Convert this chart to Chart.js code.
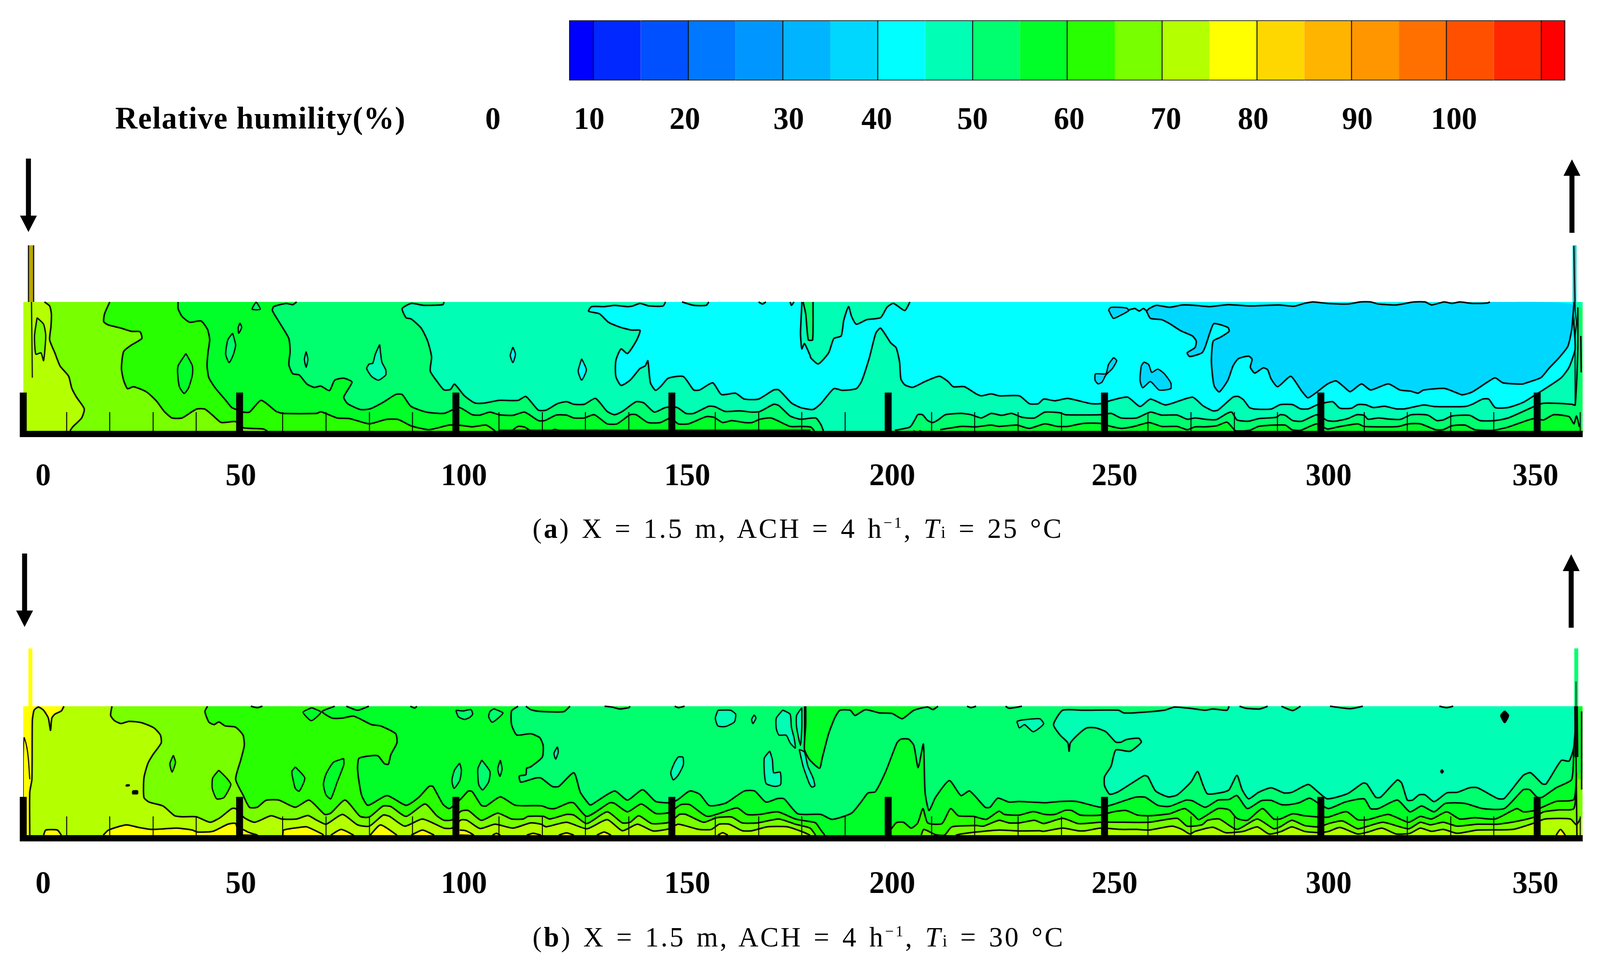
<!DOCTYPE html>
<html><head><meta charset="utf-8">
<script src="https://cdn.jsdelivr.net/npm/chart.js@4"></script>
<style>
html,body{margin:0;padding:0;background:#fff;overflow:hidden}
#page{position:relative;width:4164px;height:2473px;overflow:hidden;background:#fff;transform-origin:0 0}
canvas{position:absolute;left:0}
.t{position:absolute;white-space:nowrap;font-family:"Liberation Serif",serif;color:#000;line-height:1}
.title{font-weight:bold;font-size:80px;left:300px;top:262px;letter-spacing:1.7px}
.cap{font-size:72px;left:1386px;letter-spacing:5px;word-spacing:6px}
.cap sup{font-size:40px;line-height:0;vertical-align:26px}
.cap small{font-size:44px}
svg{position:absolute;left:0;top:0}
</style></head><body><div id="page">
<canvas id="cb" width="4164" height="400" style="top:30px"></canvas>
<canvas id="pa" width="4164" height="700" style="top:600px"></canvas>
<canvas id="pb" width="4164" height="700" style="top:1640px"></canvas>
<svg width="4164" height="2473">
<polygon fill="#000" points="67.5,406 80.5,406 80.5,552 96,552 74,594 52,552 67.5,552"/>
<polygon fill="#000" points="4084.5,596 4097.5,596 4097.5,450 4113,450 4091,408 4069,450 4084.5,450"/>
<polygon fill="#000" points="57.5,1417 70.5,1417 70.5,1563 86,1563 64,1605 42,1563 57.5,1563"/>
<polygon fill="#000" points="4082.5,1607 4095.5,1607 4095.5,1462 4111,1462 4089,1419 4067,1462 4082.5,1462"/>
</svg>
<div class="t title">Relative humility(%)</div>
<div class="t cap" style="top:1317px">(<b>a</b>) X = 1.5 m, ACH = 4 h<sup>−1</sup>, <i>T</i><small>i</small> = 25 °C</div>
<div class="t cap" style="top:2363px">(<b>b</b>) X = 1.5 m, ACH = 4 h<sup>−1</sup>, <i>T</i><small>i</small> = 30 °C</div>
</div>
<script>
/* ---------- colour bar ---------- */
const levelEdges=[7.5,10,15,20,25,30,35,40,45,50,55,60,65,70,75,80,85,90,95,100,105,110,112.5];
const levelColors=['#0000ff','#0028ff','#0050ff','#0078ff','#0096ff','#00b4ff','#00d7ff','#00ffff','#00ffb4','#00ff6e','#00ff28','#28ff00','#78ff00','#b4ff00','#ffff00','#ffd700','#ffb400','#ff9600','#ff7000','#ff5000','#ff2800','#ff0000'];
const barDividers=[7.5,10,20,30,40,50,60,70,80,90,100,110,112.5];
const barTickLabels=['0','10','20','30','40','50','60','70','80','90','100'];
const barTickAt=[-0.6,9.55,19.65,30.6,39.9,50,60.2,70.4,79.6,90.6,100.8];
/* ---------- position axis ---------- */
const xTickLabels=['0','50','100','150','200','250','300','350'];
const xLabelAt=[4.6,50.3,101.9,153.5,200.9,252.3,301.8,349.6];
/* ---------- panel (a) contours ---------- */
const a70=[[4.9,99],[6.1,95.9],[6.5,89.9],[6.4,79.9],[6.1,69.9],[7.3,59.9],[8.5,49.9],[10.5,41.9],[11.2,32.9],[12.3,25.9],[14.1,16.9],[13.5,9.9],[11.4,2.9],[10.8,0]];
const a65=[[20,99],[18.8,89.9],[18.6,83.9],[19.6,81.4],[22.6,78.9],[25,76.4],[27,76.1],[27.4,70.9],[25,65.9],[23.2,60.9],[22.7,47.9],[23.2,38.9],[24.1,32.4],[25.5,33.9],[28.5,29.9],[30.8,22.9],[32.6,14.9],[34.4,9.9],[36.7,9.9],[39.1,14.9],[40.2,16.9],[42,16.7],[43.8,11.9],[45.8,6.4],[49.1,7.1],[50.8,2.4],[55.5,1.4],[56.4,0]];
const a60=[[35.8,99],[35.8,93.9],[36.7,87.9],[38.5,83.4],[41.1,84.4],[42.6,77.9],[43.1,69.9],[42.7,59.9],[42.5,49.9],[42.9,40.9],[44.4,32.9],[46.7,23.9],[48.2,17.9],[49.7,15.9],[50.8,14.4],[52.3,14.4],[55,23.4],[58.5,14.9],[60,13.4],[67.9,13.4],[68.8,14.7],[72.6,9.9],[75.5,9.4],[80,5.4],[83.8,8.7],[86.7,8.7],[89.6,3.9],[93.8,0.9],[98.5,4.4],[101.4,4.1],[103.8,3.1],[107,4.4],[109.1,0]];
const a55=[[63.2,99],[62.3,96.9],[60.8,97.9],[57.9,95.4],[57.6,92.4],[59.1,83.9],[61.4,70.9],[61.7,60.9],[61.4,50.9],[62.3,43.9],[63.8,42.9],[65.6,35.9],[67.3,33.4],[68.8,34.4],[70.8,30.9],[72,38.9],[74.1,40.4],[76,37.4],[74.1,25.9],[75,20.9],[77.9,16.4],[80.2,16.9],[83.2,21.9],[86.1,27.9],[87.6,27.9],[89.6,18.9],[93.2,14.4],[97.3,13.4],[99.1,15.9],[100.9,17.9],[103.8,12.4],[105.6,12.1],[107.9,14.4],[110,12.4],[113.2,11.9],[115.9,14.4],[119.1,7.9],[120.6,7.9],[123.2,12.1],[125.6,12.1],[127.3,9.9],[129.7,9.9],[132,12.4],[135,5.4],[137.3,5.4],[140.3,12.4],[141.7,12.4],[144.4,6.4],[147.3,6.4],[149.7,9.9],[151.4,5.4],[153.8,5.4],[157.9,10.9],[159.7,10.4],[161.7,6.4],[163.8,7.9],[166.7,6.4],[168.5,6.4],[170.3,8.9],[172.9,9.9],[177.3,3.4],[179.7,3.4],[182.1,2.9],[182.9,0],[212,0.9],[216.8,3.4],[220.3,3.1],[223.8,4.4],[225.6,3.4],[229.7,4.4],[232.6,1.9],[236.2,5.4],[239.1,3.4],[241.5,3.4],[245,5.7],[249.1,5.7],[251.5,3.4],[253.8,1.9],[256.8,3.4],[260.3,6.4],[263.2,3.4],[266.8,3.4],[269.1,0.9],[270.9,3.1],[273.2,3.1],[275.9,3.9],[278.3,6.7],[279.7,1.9],[280.3,0],[283.5,0.4],[285.6,3.4],[289.1,4.4],[291.8,4.4],[293.3,0.9],[295.3,0.4],[299.1,5.4],[301.5,1.4],[303.8,2.9],[308.5,5.4],[310,3.4],[315.6,3.1],[318,3.4],[320.3,5.4],[323,5.4],[326.5,0.9],[328.3,0.9],[330.3,3.9],[333.3,4.4],[335.6,0.9],[339.7,0.4],[343.3,2.9],[349.1,9.4],[351.5,8.4],[353.8,12.4],[357.4,10.9],[358.5,5.4],[359.1,11.4],[359.8,2.9]];
const a50=[[97.3,99],[97,96.9],[92.6,96.4],[89.7,97.9],[87.6,93.9],[88.5,86.9],[89.7,85.9],[92,78.9],[93.5,68.9],[94.4,56.9],[94.1,45.9],[95.9,36.9],[97.3,31.4],[98.8,31.9],[99.7,35.9],[102,26.9],[104.4,21.4],[106.7,21.4],[110,23.4],[114.4,23.4],[116.2,26.4],[119.1,15.9],[120.9,15.9],[123.5,20.9],[125.6,22.4],[127.3,20.4],[129.7,20.4],[132.3,24.9],[135,14.9],[136.7,12.4],[138.5,14.9],[141.7,22.4],[143.5,21.4],[145.9,14.4],[148.5,17.9],[151.2,17.9],[153.2,13.4],[155,13.4],[158.5,18.9],[160,18.4],[162.3,14.9],[165.6,15.4],[168.5,14.4],[170.3,14.9],[173.5,20.4],[174.7,19.4],[177.3,11.4],[179.7,8.9],[183.2,9.9],[184.4,4.9],[185,0],[201.5,0.4],[205,2.9],[206.2,8.9],[206.8,12.4],[207.9,12.4],[209.1,7.9],[210.3,6.4],[211.5,8.4],[213.2,12.4],[216.8,13.4],[219.1,12.4],[221.5,9.9],[223.8,13.4],[226.2,11.9],[228.5,13.4],[230.9,10.4],[233.8,9.9],[236.2,14.4],[239.7,13.9],[240.9,12.4],[249.1,12.4],[251.5,13.4],[253.8,9.9],[257.4,9.9],[260.6,14.4],[263.2,12.1],[266.8,12.1],[269.1,8.9],[270.9,9.9],[273.8,8.7],[275.9,8.7],[278.3,13.4],[279.4,14.4],[280.6,8.4],[283.3,7.4],[285.6,9.4],[289.7,10.4],[290.6,12.4],[291.8,11.9],[293.5,7.9],[295.6,7.4],[299.1,12.4],[301.5,7.9],[303.3,7.4],[306.2,9.4],[308.3,12.4],[310,11.9],[310.9,8.9],[313.3,9.9],[316.2,8.9],[318.5,8.9],[320.9,12.4],[324.7,12.1],[326.8,7.9],[328.3,8.4],[330.3,11.4],[334.4,11.9],[336.8,7.9],[340.3,7.9],[343.3,9.9],[349.1,18.4],[351.2,21.1],[355,21.1],[358,20.4],[358.8,19.9],[359.4,62.9],[359.4,94.9]];
const a45=[[148.5,99],[147.9,95.9],[144.7,95.9],[142.6,97.9],[140.9,95.9],[139.7,95.4],[136.7,96.4],[134.4,95.4],[131.4,95.4],[130.7,91.9],[133.2,89.9],[135.3,83.4],[137.9,79.7],[140.6,77.4],[142.6,77.1],[141.7,68.9],[139.7,59.4],[138.2,62.9],[137,53.9],[137,41.9],[138.2,34.9],[140.3,38.9],[142.6,47.9],[143.8,49.9],[144.4,53.9],[145,36.9],[146.2,31.1],[147.6,34.9],[149.1,40.4],[152.6,41.7],[155,31.4],[156.4,31.4],[159.4,36.9],[161.4,27.9],[164.7,28.9],[166.7,24.4],[170,24.4],[173.5,31.4],[174.7,31.4],[177.6,21.4],[179.7,17.9],[182.6,16.4],[184.4,20.9],[187.4,32.4],[189.4,31.1],[192.6,32.4],[193.8,37.9],[195.6,55.9],[197.1,74.9],[198.2,78.9],[200.6,67.4],[201.8,63.9],[202.6,52.9],[202.9,39.9],[203.8,35.4],[205.6,33.4],[208.5,37.9],[211.8,41.9],[213.8,37.9],[215,33.9],[217.6,33.9],[220.3,28.4],[221.5,26.9],[223.8,28.4],[225.6,26.9],[230.3,26.9],[232.6,20.9],[234.7,20.9],[235.9,24.4],[238.5,23.1],[241.5,24.9],[246.8,20.9],[249.1,20.9],[251.5,23.4],[255.3,25.9],[258.2,18.7],[260.6,24.4],[264.1,19.9],[270.3,25.9],[272.7,19.4],[275,15.4],[276.2,15.9],[279.7,25.9],[280.9,26.4],[282.1,23.9],[283.5,17.9],[284.7,16.7],[288.5,16.7],[290.6,20.1],[293.5,20.1],[295.3,16.9],[297.1,16.9],[299.1,19.9],[302.7,22.4],[304.4,17.4],[307.1,17.4],[308.5,20.1],[310.3,20.1],[312.1,17.9],[314.7,18.9],[317.4,16.9],[319.4,16.9],[323.8,19.9],[326.2,18.7],[333.3,18.7],[335,20.4],[337.4,24.4],[338.8,24.4],[340.3,17.9],[343.3,17.9],[346.8,21.9],[349.7,27.9],[352.1,32.9],[355.6,40.9],[357.4,48.9],[358.8,62.9],[358.5,82.9],[358.5,99]];
const a40Lower=[[259.7,91.9],[260.6,86.4],[263.2,85.4],[265,82.4],[267.6,76.9],[270.3,72.9],[271.2,68.9],[270.9,63.9],[269.1,59.9],[269.7,57.1],[272.5,59.9],[273.3,64.9],[274.4,75.9],[275.3,82.4],[278.5,79.4],[278.8,76.4],[276.8,71.9],[275.1,68.9],[274.7,52.9],[275.3,34.9],[276.5,29.9],[278.5,38.9],[279.7,49.9],[280.9,55.4],[283.3,57.4],[284.1,54.9],[283.7,48.9],[284.7,44.4],[286.7,48.4],[287.7,46.9],[288.5,39.9],[290,33.9],[293,41.9],[294.7,34.9],[295.6,30.4],[297.1,25.4],[301.5,35.9],[303.5,38.4],[305.3,33.9],[306.8,30.1],[309.4,36.1],[311.5,31.4],[315.6,36.1],[318.3,31.4],[320.9,30.4],[322.4,28.9],[323.8,31.4],[328.5,32.6],[330.9,29.9],[332.7,27.7],[335,29.9],[338.5,37.4],[340.3,40.7],[342.1,36.9],[346.5,35.9],[348,37.4],[350.9,40.9],[352.7,47.9],[355,55.9],[357.1,64.9],[358,77.9],[358.5,96.9]];
const a40Top=[[339.1,99],[338.5,98.2],[335,97.9],[332.1,99],[330.3,97.9],[328.5,99],[325.6,96.7],[324.1,99],[321.5,99],[317.4,96.7],[313.3,97.4],[311.5,99],[309.1,99],[306.2,97.4],[301.5,97.9],[298.2,99],[296.2,97.9],[293.8,95.7],[290.3,96.7],[283.8,95.9],[278.5,96.9],[274.4,95.4],[270.9,96.4],[268,96.7],[265,94.9],[262,96.4],[260.3,93.9],[259.7,91.9]];
const aTongue=[[180,99],[180,97],[179.7,75],[180,63],[180.6,67],[181.9,58],[182.1,55.9],[183.8,51.4],[186.2,59.9],[187.4,70.9],[189.1,72.9],[189.7,84.9],[190.8,95.4],[191.5,87.9],[192.6,81.9],[195,85.4],[198.2,86.9],[199.7,94.9],[201.2,97.9],[203.8,92.4],[205,99]];
const aSliver=[[180.3,99],[180.9,89.9],[181.5,69.9],[182.5,69.9],[182.6,99]];
const aTopTealBlips=[[[152.3,99],[155,96.4],[157.9,96.4],[158.5,99]],[[170,99],[170.9,97.4],[171.7,99]],[[177.3,99],[177.6,96.4],[178.2,99]]];
const aSquiggle=[[255.6,92.9],[257,94],[258,92],[259,94],[259.7,92]];
const aGreenIslands=[[[37.6,59.4],[39.1,49.9],[39.1,42.9],[38.2,32.9],[37.2,28.7],[36.1,33.9],[35.7,43.9],[35.8,49.9]]];
const aLightIslands=[[[48.4,75.1],[49.1,65.9],[48.5,57.9],[47.6,52.4],[46.8,58.9],[47.3,69.9]],[[50.1,82.9],[50.5,79.4],[49.8,74.9],[49.7,79.4]],[[53.9,99],[54.8,93.4],[52.9,93.4],[53.5,97.4]]];
const aTealIslands=[[[65.4,60.9],[65.8,54.9],[65.4,48.9],[65,54.9]],[[82.4,66.4],[82.9,52.9],[83.8,46.9],[83.8,42.9],[82.1,38.9],[80.5,41.9],[79.4,47.9],[80,51.4],[80.8,51.9],[81.4,58.9]]];
const aCyanIslands=[[[113.2,64.4],[113.8,58.9],[113.2,52.4],[112.6,57.9]],[[129.1,55.4],[130.2,46.9],[129.1,38.9],[128.3,45.9]]];
const aBlueIslands=[[[250.9,92.9],[251.5,94.9],[255,94.4],[255.6,92.4],[253.2,87.9],[252,86.4]],[[252.1,56.4],[252.8,53.9],[251.8,47.9],[250.3,42.9],[249.4,37.4],[248.5,36.1],[247.8,38.9],[247.9,43.7],[250.3,43.9],[250.9,50.9]],[[259.1,52.9],[260.2,50.9],[260.9,44.9],[262.3,47.4],[263.8,43.9],[265.3,36.9],[265.3,32.4],[262.6,31.4],[260.6,37.9],[258.8,33.1],[258.2,38.9],[258.5,49.9]]];
const aJetIsland=[[3.2,86.9],[2.6,72.9],[2.9,58.9],[4.1,59.9],[4.7,53.9],[5.2,72.9],[4.7,81.9]];
const aJetLine=[[1.9,99],[2.1,40.9]];
const aFloorBlobs=[[[112.9,0],[114.4,3.4],[115.9,2.9],[117.3,0]],[[122,0],[122.9,1.1],[124.1,0]],[[205.9,0],[206.6,3.9],[207.4,0]]];
const aFloorFuzz=[[110,0.5],[182,0.5]];
const aOutletLine=[[358.5,142],[358.8,92.9],[359.1,82.9],[358.8,72.9],[358.8,19.9]];
const aOutletEdge=[[360.1,72.9],[360.2,44.9]];
const aInlet=[[1.2,99],[1.2,142.5],[2.4,142.5],[2.4,99]];
const aOutlet=[[358.2,99],[358.2,142.5],[359.1,142.5],[359.1,99]];
/* ---------- panel (b) contours ---------- */
const bInletZone=[[9.4,99],[8.8,95.4],[7.3,92.9],[6.6,89.9],[6.3,80.4],[5.8,89.9],[4.7,95.9],[3.5,98.4],[2.5,95.9],[2.1,87.9],[2,42.9],[1.5,32.9],[1.5,0]];
const bFloorYellow=[[[4.7,0],[5.2,3.9],[7.9,3.9],[8.8,0]],[[18.5,0],[19.7,3.9],[23.8,7.9],[26.7,5.9],[29.7,4.4],[35.5,5.4],[39.1,3.9],[40.2,2.4],[43.8,2.9],[47.3,8.4],[49.1,8.9],[49.8,0]],[[50.8,4.4],[52.3,1.9],[54.1,0],[50.8,0]],[[60,0],[60.2,3.9],[63.8,5.9],[65.5,6.4],[69.1,0.9],[69.4,0]],[[71.1,0],[73.5,4.4],[76.4,0]],[[80.2,0],[82.6,7.9],[86.4,0]],[[89.7,0],[92.3,3.9],[95,0]],[[100.9,3.9],[102.3,3.4],[104.1,0],[100.9,0]],[[108.5,0],[109.4,1.4],[110.3,0]],[[116.4,0],[117.9,1.4],[119.7,0]],[[123.8,0],[125.6,1.7],[127.3,0]],[[132.6,0],[134.3,2.4],[135.9,0]],[[160.6,0],[161.7,1.9],[162.9,0]],[[354.4,0],[355.4,4.4],[356.5,0]]];
const b70=[[20.5,99],[20.2,91.9],[21.1,87.9],[22.6,85.7],[24.4,87.4],[27.3,86.4],[30.2,82.4],[31.7,76.9],[31.9,70.9],[30,61.9],[28.8,54.9],[27.9,43.9],[27.9,28.9],[29.1,25.4],[32.3,22.4],[35,14.9],[36.7,14.1],[40,14.1],[43.2,9.9],[45.5,13.4],[48.2,20.4],[49.1,20.4],[51.1,13.4],[53.5,9.9],[57.3,14.9],[59.7,12.4],[63.2,12.4],[65.8,15.1],[67.9,11.4],[70,8.4],[73.8,15.9],[77.3,7.9],[80,6.9],[83.2,15.4],[84.7,14.4],[88.2,6.9],[92.3,12.4],[97.3,5.4],[99.1,5.4],[101.2,11.7],[102.6,11.4],[105.6,5.1],[109.1,8.4],[113.2,5.4],[117.3,9.4],[119.7,8.4],[120.9,6.4],[125.6,9.9],[130.3,4.9],[135,11.9],[138.5,3.4],[142,8.4],[145.6,3.2],[149.4,4.9],[151.4,8.4],[156.2,4.4],[159.1,4.4],[160.9,8.4],[163.2,8.4],[166.2,3.4],[168.5,3.4],[172,6.4],[176.7,6.4],[180.3,2.4],[181.9,0],[215.6,0],[216.8,0.9],[220.3,2.4],[225.6,3.9],[230.3,3.2],[235,3.4],[235.9,2.9],[240.3,5.4],[243.8,3.4],[245.6,3.4],[249.1,5.4],[253.8,4.4],[257.4,4.4],[260.3,3.9],[265.6,6.9],[267.9,4.4],[269.7,0.9],[270.9,2.9],[275,6.1],[278,1.9],[282.1,2.9],[285.3,6.4],[288,0.9],[290.9,2.9],[293.3,6.4],[296.2,2.9],[299.7,1.9],[301.8,2.9],[304.4,5.9],[308.5,0.9],[310.9,2.4],[314.1,5.4],[317.4,0.9],[320.6,1.4],[323,5.4],[325.6,2.9],[328.3,4.4],[331.5,1.4],[336.2,3.9],[344.4,4.4],[349.4,9.4],[351.8,12.4],[357.7,12.4],[359.1,7.9],[360,12.9]];
const b65=[[42.6,99],[42,94.9],[42.9,86.9],[44.1,84.9],[45.2,86.9],[46.7,83.9],[49.1,82.9],[50.8,76.9],[51.1,68.9],[50.3,57.9],[49.1,42.9],[50.8,30.9],[52.3,21.4],[54.1,21.4],[56.1,26.7],[59.1,26.9],[62.9,21.4],[66.1,26.9],[69.7,15.9],[71.1,16.9],[74.4,26.9],[77.9,14.4],[80,13.9],[83.2,22.4],[85,21.9],[88.5,14.4],[92.9,23.9],[95.6,14.9],[97.3,11.4],[99.1,11.7],[101.2,18.4],[102.9,18.9],[105.9,11.4],[109.7,16.9],[112.9,12.4],[115.6,12.4],[116.7,14.4],[120.3,14.4],[121.7,12.4],[125.6,15.9],[127.3,15.4],[130.3,8.9],[135,17.9],[138.5,9.4],[140.3,9.9],[142.3,14.9],[145.3,8.9],[149.4,9.9],[151.7,15.9],[153.2,15.9],[157.3,9.9],[160.3,13.4],[163.8,13.9],[166.2,9.4],[169.7,9.4],[174.7,12.4],[178.5,8.4],[181.9,5.4],[183.2,0],[207.6,0],[208.2,4.4],[210.9,0.4],[213,0],[214.7,6.4],[220.3,7.4],[222,6.9],[225.6,11.4],[227.9,9.4],[230.3,9.4],[233.8,11.4],[235.9,8.9],[240.3,12.9],[243.8,8.9],[245.6,8.9],[249.1,9.9],[254.4,9.9],[260.3,9.9],[266.8,12.9],[269.1,6.9],[272.5,7.9],[273.8,11.4],[276.5,12.4],[280.6,4.4],[285.3,12.4],[289.1,4.9],[290.6,6.4],[293.3,11.4],[296.2,7.4],[299.7,6.4],[301.8,8.9],[305,10.9],[308.5,4.9],[310.9,6.9],[314.4,9.9],[320.3,4.9],[323,9.9],[325.3,7.9],[328.3,9.9],[331.5,6.9],[336.2,8.4],[340.9,8.4],[345,10.4],[349.4,13.9],[351.5,17.9],[355,19.4],[358.5,20.4],[359.1,42.9]];
const b60=[[72,99],[69.1,94.9],[71.4,89.9],[73.8,89.9],[76.4,91.4],[80.5,84.9],[82.6,83.9],[86.1,77.9],[86.4,70.9],[85,61.9],[84.4,54.4],[83.5,54.9],[82,60.9],[80.2,60.9],[77.6,58.9],[77.3,49.9],[78.2,30.9],[79.7,22.9],[84.1,30.4],[88.5,22.9],[91.4,28.9],[93.8,37.4],[94.7,37.4],[97,23.9],[98.5,20.4],[101.2,27.9],[102.9,33.9],[103.8,33.4],[105.9,22.9],[107,22.4],[110.3,29.4],[113.8,22.9],[119.7,22.6],[121.7,20.4],[122.9,20.4],[126.2,24.9],[127.3,24.7],[130.3,14.4],[135.6,24.9],[136.7,24.4],[139.7,17.9],[142.9,23.9],[146.2,16.7],[149.4,17.4],[152,23.4],[154.1,23.4],[158.2,14.4],[165,20.9],[167.3,15.9],[170.3,15.9],[174.4,17.9],[178.5,12.4],[181.9,10.4],[183.2,9.4],[184.4,3.9],[185.3,0],[199.7,0],[201.8,9.4],[203.5,9.9],[205.3,5.4],[206.8,9.4],[208,20.4],[209.1,9.4],[212.4,8.9],[214.4,20.4],[216.2,14.9],[219.7,14.4],[222.6,12.1],[225.6,18.4],[226.8,15.9],[230.3,15.4],[233.5,18.1],[236.2,15.9],[238.5,15.9],[240.9,19.1],[242.4,18.9],[244.4,15.4],[249.1,15.4],[252,17.9],[255,18.9],[257.6,15.4],[260.3,14.9],[265,16.4],[268.5,20.4],[270.6,15.4],[271.8,11.9],[276.2,20.4],[278.8,19.4],[280.6,12.9],[283,11.4],[286.5,20.4],[289.1,12.4],[290.6,12.4],[293.5,16.4],[296.2,14.9],[299.7,13.9],[301.8,13.9],[305.9,18.1],[308.5,11.9],[310.9,11.9],[315.6,15.9],[320.3,9.9],[323,14.4],[325.6,12.4],[329.1,17.9],[332.1,12.4],[335.6,13.4],[340.3,12.4],[345.3,20.4],[346.8,17.9],[349.4,18.9],[351.5,21.9],[354.4,25.9],[358.5,27.4],[359.1,47.9]];
const b55=[[114.4,99],[112.9,95.4],[112.9,84.9],[114.1,76.9],[117.3,77.9],[119.4,74.9],[120.2,68.9],[120,59.9],[117.3,52.4],[116.4,51.4],[116.2,46.4],[114.7,45.4],[115,40.7],[118.5,43.9],[119.7,43.9],[122.3,37.4],[123.8,37.4],[127.3,47.9],[128.8,32.9],[130.9,23.4],[131.4,23.4],[136.7,33.9],[139.7,26.9],[143.2,34.9],[146.2,25.9],[149.7,24.9],[151.4,27.4],[154.1,33.9],[156.4,31.4],[158.5,22.9],[160.3,22.9],[162.6,24.9],[166.7,33.9],[169.1,33.9],[171.7,25.4],[174.4,28.1],[175.9,27.9],[179.1,16.4],[184.4,15.9],[187,12.1],[191.5,16.9],[193.8,25.9],[195.3,32.4],[197,33.4],[199.4,48.9],[202,70.9],[202.9,73.7],[204.7,73.7],[205.9,68.9],[206.9,51.9],[208.1,69.9],[208.5,32.9],[209.4,18.9],[210.9,28.9],[214.1,41.9],[216.8,30.4],[218.8,33.9],[222.4,21.4],[223.5,21.4],[225.3,28.4],[227.9,25.4],[230.3,25.9],[236.2,24.9],[239.7,25.9],[243.5,25.9],[249.1,21.4],[251.8,23.4],[257.1,29.1],[259.4,29.1],[262.3,22.9],[265,22.1],[268.8,26.9],[270.3,26.4],[273.3,21.4],[276.2,26.9],[278.8,27.4],[280.6,30.4],[283,20.4],[286.2,26.4],[288.5,26.7],[290.9,23.4],[292.7,23.4],[295,24.9],[297.4,28.4],[299.7,23.9],[301.8,20.4],[305.6,25.4],[310,27.9],[311.5,20.4],[313.3,20.4],[317.7,26.9],[320.6,17.9],[323.3,22.4],[326.2,17.9],[328.8,24.4],[333.3,24.4],[337.4,20.4],[342.4,20.4],[346.8,34.9],[348.3,34.9],[350,29.1],[351.2,29.1],[354.4,36.4],[358,42.9],[358.5,72.9],[359.1,99]];
const bWedge=[[211.5,99],[210.3,96.4],[209.1,98.4],[205.9,95.9],[203.2,89.4],[200.9,93.4],[197.9,93.9],[194.7,96.4],[192.3,91.9],[191.2,95.9],[188.8,95.9],[187.6,89.9],[186.2,77.9],[184.7,58.9],[184.1,51.4],[181.8,57.9],[180.6,65.9],[180.9,85],[180.9,99]];
const b50=[[278.8,99],[278.3,95.9],[275,96.9],[273.3,95.9],[270.9,96.9],[269.7,97.4],[266.2,98.4],[263.8,95.9],[256.8,93.9],[254.4,93.9],[253.2,95.9],[245,95.9],[240.3,95.9],[238.2,84.9],[239.7,76.9],[241.5,70.9],[241.8,64.4],[242.1,70.9],[244.4,78.9],[245.9,82.4],[247.9,82.4],[250.3,79.4],[252.6,71.4],[253.8,71.4],[255,73.4],[257.9,74.4],[258.5,71.4],[255.9,64.4],[252.6,65.4],[251.5,52.9],[250,44.9],[250,37.9],[251.2,31.4],[253.2,33.4],[259.1,45.7],[260,44.9],[261.8,33.9],[264.7,29.4],[266.8,30.9],[270,40.9],[271.5,48.9],[272.7,38.9],[273.8,31.7],[277.4,32.9],[278.8,34.9],[280.6,45.9],[281.8,34.9],[283.3,27.9],[285.6,32.9],[288.5,36.4],[291.5,32.4],[293.3,32.9],[297.1,38.9],[299.1,33.9],[301.5,27.9],[306.2,31.9],[309.7,39.9],[310.6,39.4],[312.7,29.1],[313.8,29.1],[317.7,42.4],[318.7,39.9],[320,26.9],[321.2,26.9],[322.7,30.9],[324.1,30.9],[326.2,25.7],[329.1,32.4],[331.5,32.9],[334.4,36.4],[336.2,36.4],[340.9,28.1],[342.4,28.1],[346.8,45.9],[348.5,47.9],[351.2,39.4],[352.1,39.4],[355.6,57.4],[357.4,56.9],[358.5,67.9],[359.1,99]];
const bTopGreen=[[[52.6,99],[54.1,97.9],[55.3,99]],[[74.7,99],[77.3,95.9],[79.9,99]],[[89.5,99],[90.5,97.6],[91,99]],[[116.2,99],[117.3,96.4],[119.1,95.1],[125,94.9],[126.4,99]],[[134.4,99],[136.1,98.4],[137.9,96.9],[140,97.9],[140.3,99]],[[150.6,99],[151.5,97.9],[152.9,99]]];
const bTopLight=[[[218.2,99],[219.1,97.9],[220.3,99]],[[227.1,99],[227.9,97.4],[230.9,99]],[[281.2,99],[282.7,97.4],[285.9,96.9],[287.7,99]],[[290.9,99],[293.5,95.7],[295.3,99]],[[302.1,99],[306.8,97.1],[309.7,99]],[[327.4,99],[329.1,97.9],[330.6,99]]];
const bLimeIslands=[[[45.2,49.9],[47,43.9],[48,38.9],[46.4,28.9],[44.7,27.9],[43.7,35.9],[43.8,43.9]],[[34.7,61.4],[35.2,55.9],[34.4,48.4],[33.9,54.9]]];
const bGreenIslands=[[[62.9,52.4],[65.1,43.9],[63.8,33.7],[62.9,35.9],[62.3,43.9],[62.1,48.9]],[[74.1,58.9],[74.1,53.9],[72.6,40.9],[71.1,27.9],[70,30.9],[69.4,38.9],[70,46.9],[71.7,55.9]],[[66.7,97.9],[68.8,94.4],[66.6,87.9],[64.7,94.4]]];
const bLightIslands=[[[100,95.9],[101.7,95.4],[103.5,96.4],[103.9,92.9],[103.2,90.4],[102,88.9],[100.6,90.9]],[[108.8,97.1],[110.9,93.9],[110,90.4],[108.4,86.7],[107.6,90.9],[107.9,94.9]],[[100.9,55.4],[101.3,49.9],[100.9,41.9],[99.6,35.9],[99.1,41.9],[99.7,49.9]],[[106,57.7],[107.9,48.9],[107.6,40.9],[106.2,34.7],[105.3,38.9],[105.1,50.9]],[[110.3,57.7],[110.7,50.9],[110.2,45.1],[109.7,50.9]]];
const bTealIslands=[[[123.5,67.9],[123.7,63.9],[123.1,58.4],[122.7,62.9]],[[160.6,95.9],[163.5,95.9],[164.7,92.9],[164.4,86.9],[162.3,83.4],[160.6,83.9],[160,89.9]],[[169,92.4],[169.4,89.9],[168.7,85.7],[168.4,88.9]],[[175.6,96.1],[177.3,92.9],[177.6,82.9],[178.2,74.9],[178.5,66.9],[177.3,70.9],[176.4,76.7],[174.7,76.9],[174.1,81.9],[174.1,89.9]],[[180,97.9],[180,82.9],[179.7,68.9],[178.8,82.9],[178.8,91.9]],[[151.4,60.1],[152.5,59.9],[152.6,53.9],[151.4,45.9],[150.3,42.4],[149.7,47.9],[150.6,55.9]],[[172.6,64.7],[173.2,57.9],[173.5,47.9],[175,48.4],[175.1,38.9],[173.8,37.4],[171.7,39.9],[171.3,58.9]],[[179.4,65.9],[180.3,52.9],[181.7,39.9],[182.3,36.9],[183,37.9],[182.6,43.9],[181.4,52.9],[180.6,63.9]],[[229.7,87.4],[230.9,88.4],[235,89.4],[235.9,85.4],[233.5,79.4],[231.5,84.9],[230.3,82.4]]];
const bBlackSpots=[[[342.5,95.4],[343.4,91.9],[342.5,86.4],[341.6,91.9]],[[328,50.4],[328.3,48.9],[328,47.7],[327.7,48.9]],[[23.8,38.6],[24.5,38.6],[24.5,38],[23.8,37.8]],[[25.3,34],[26.4,34],[26.4,31.9],[25.3,31.9]]];
const bJetEllipse=[[0,26.9],[0,57.9],[0.2,74.9],[0.8,67.9],[1.2,57.9],[1.5,42.9]];
const bDividerLine=[[180.6,99],[180.6,67]];
const bOutletThick=[[359,99],[359.1,60]];
const bOutletThin=[[359,60],[359.2,0]];
const bOutletEdge=[[360.3,95],[360.3,35]];
const bOutletStem=[[359,118],[359,99]];
const bInlet=[[1.2,99],[1.2,143.4],[2.1,143.4],[2.1,99]];
const bOutlet=[[358.6,99],[358.6,143.4],[359.5,143.4],[359.5,99]];
const roomRect=[[0,0],[360.5,0],[360.5,99],[0,99]];

/* ---------- drawing helpers ---------- */
const C={c35:'#00d7ff',c40:'#00ffff',c45:'#00ffb4',c50:'#00ff6e',c55:'#00ff28',c60:'#28ff00',c65:'#78ff00',c70:'#b4ff00',c75:'#ffff00'};
const XY=p=>p.map(([x,y])=>({x,y}));
const LW=4;
function splitFloor(line){
  const out=[];let cur=[];
  line.forEach((p,i)=>{
    const q=line[i-1];
    if(q&&q[1]<1&&p[1]<1&&Math.abs(p[0]-q[0])>8){out.push(cur);cur=[];}
    cur.push(p);
  });
  out.push(cur);return out;
}
function builder(){
  const ds=[];
  const fillShape=(pts,color,tension=0.2)=>ds.push({data:XY(pts),showLine:true,fill:'shape',backgroundColor:color,borderWidth:0,borderColor:'transparent',pointRadius:0,tension});
  const stroke=(pts,w=LW)=>ds.push({data:XY(pts),showLine:true,fill:false,borderColor:'#0a0a0a',borderWidth:w,pointRadius:0,tension:0.2,borderJoinStyle:'round'});
  return {ds,fillShape,stroke,
    region(color,line,corners=[]){fillShape(line.concat(corners),color);splitFloor(line).forEach(l=>stroke(l));},
    isle(color,pts){fillShape(pts,color);stroke(pts.concat([pts[0]]),3.5);},
    tongue(color,pts){fillShape(pts,color);stroke(pts);}
  };
}
const corner=(y)=>[[360.5,y],[360.5,99]];

/* panel a */
const A=builder();
A.fillShape(roomRect,C.c70,0);
A.region(C.c65,a70,corner(0));
A.isle(C.c65,aJetIsland);
A.region(C.c60,a65,corner(0));
A.region(C.c55,a60,corner(0));
aFloorBlobs.forEach(b=>A.tongue(C.c60,b));
A.region(C.c50,a55,corner(2.9));
A.region(C.c45,a50,corner(94.9));
A.region(C.c40,a45);
A.tongue(C.c45,aTongue);
A.tongue(C.c50,aSliver);
aTopTealBlips.forEach(b=>A.tongue(C.c45,b));
A.fillShape(a40Lower.concat(a40Top),C.c35);A.stroke(a40Lower);A.stroke(a40Top);
A.stroke(aSquiggle);
aGreenIslands.forEach(b=>A.isle(C.c55,b));
aLightIslands.forEach(b=>A.isle(C.c50,b));
aTealIslands.forEach(b=>A.isle(C.c45,b));
aCyanIslands.forEach(b=>A.isle(C.c40,b));
aBlueIslands.forEach(b=>A.isle(C.c35,b));
A.fillShape(aInlet,'#b8a800',0);
A.stroke(aJetLine,3);
A.stroke([aInlet[0],aInlet[1]],3);A.stroke([aInlet[3],aInlet[2]],3);
A.stroke(aFloorFuzz,3);
A.fillShape(aOutlet,'#00d0d0',0);
A.stroke(aOutletLine,3);A.stroke(aOutletEdge,4);

/* panel b */
const B=builder();
B.fillShape(roomRect,C.c70,0);
B.fillShape(bInletZone.concat([[0,0],[0,99]]),C.c75);B.stroke(bInletZone);
B.stroke(bJetEllipse,3);
bFloorYellow.forEach(b=>B.tongue(C.c75,b));
bBlackSpots.slice(2).forEach(b=>B.isle('#000',b));
B.region(C.c65,b70,corner(12.9));
bLimeIslands.forEach(b=>B.isle(C.c60,b));
B.region(C.c60,b65,corner(42.9));
B.region(C.c55,b60,corner(47.9));
bGreenIslands.forEach(b=>B.isle(C.c55,b));
bTopGreen.slice(0,3).forEach(b=>B.tongue(C.c55,b));
B.region(C.c50,b55);
B.tongue(C.c55,bWedge);
bTopGreen.slice(3).forEach(b=>B.tongue(C.c55,b));
bLightIslands.forEach(b=>B.isle(C.c50,b));
B.region(C.c45,b50);
bTopLight.forEach(b=>B.tongue(C.c50,b));
bTealIslands.forEach(b=>B.isle(C.c45,b));
bBlackSpots.slice(0,2).forEach(b=>B.isle('#000',b));
B.stroke(bDividerLine,3);
B.fillShape(bInlet,C.c75,0);
B.fillShape(bOutlet,C.c50,0);
B.stroke(bOutletStem,2);B.stroke(bOutletThick,10);B.stroke(bOutletThin,4);B.stroke(bOutletEdge,4);

/* ---------- charts ---------- */
const tickFont={family:'"Liberation Serif",serif',weight:'bold',size:80};
function zeroH(s){s.height=0;}
function panel(id,datasets,yMax,top,pad,labelPad){
  new Chart(document.getElementById(id),{
    type:'scatter',
    data:{datasets:datasets.slice().reverse()},
    options:{
      responsive:false,devicePixelRatio:1,animation:false,events:[],
      layout:{padding:{left:60.5,right:45.5,top:top,bottom:pad}},
      plugins:{legend:{display:false},tooltip:{enabled:false}},
      scales:{
        x:{type:'linear',position:'bottom',min:0,max:360.5,afterFit:zeroH,
           ticks:{display:false,stepSize:50,includeBounds:false},
           border:{display:true,color:'#000',width:16,z:2},
           grid:{z:2,drawOnChartArea:false,drawTicks:true,tickLength:-106,tickWidth:18,tickColor:'#000'}},
        xMinor:{type:'linear',position:'bottom',min:0,max:360.5,afterFit:zeroH,
           ticks:{display:false,stepSize:10,includeBounds:false},
           border:{display:false},
           grid:{z:1,drawOnChartArea:false,drawTicks:true,tickLength:-56,tickWidth:2.5,tickColor:'#000'}},
        xLabels:{type:'linear',position:'bottom',min:0,max:360.5,afterFit:s=>{s.height=150;},
           afterBuildTicks:s=>{s.ticks=xLabelAt.map(v=>({value:v}));},
           ticks:{font:tickFont,color:'#000',padding:labelPad,autoSkip:false,maxRotation:0,minRotation:0,callback:(v,i)=>xTickLabels[i]},
           border:{display:false},grid:{display:false}},
        y:{type:'linear',display:false,min:-2.4,max:yMax}
      }
    }
  });
}
panel('pa',A.ds,142.5,28,39,54);
panel('pb',B.ds,143.4,20,44,63);

new Chart(document.getElementById('cb'),{
  type:'bar',
  data:{labels:['RH'],datasets:levelColors.map((c,i)=>({
    data:[[levelEdges[i],levelEdges[i+1]]],backgroundColor:c,borderColor:'#111',
    borderWidth:{top:2,bottom:2,left:0,right:0},borderSkipped:false,
    barPercentage:1,categoryPercentage:1,grouped:false}))},
  options:{
    indexAxis:'y',responsive:false,devicePixelRatio:1,animation:false,events:[],
    layout:{padding:{left:0,right:0,top:22,bottom:94}},
    plugins:{legend:{display:false},tooltip:{enabled:false}},
    scales:{
      x:{type:'linear',position:'bottom',min:-52.6,max:116.2,afterFit:zeroH,
         afterBuildTicks:s=>{s.ticks=barDividers.map(v=>({value:v}));},
         ticks:{display:false},border:{display:false},
         grid:{drawTicks:false,color:'#111',lineWidth:2.5,z:1}},
      xLabels:{type:'linear',position:'bottom',min:-52.6,max:116.2,afterFit:s=>{s.height=130;},
         afterBuildTicks:s=>{s.ticks=barTickAt.map(v=>({value:v}));},
         ticks:{font:tickFont,color:'#000',padding:47,autoSkip:false,maxRotation:0,minRotation:0,callback:(v,i)=>barTickLabels[i]},
         border:{display:false},grid:{display:false}},
      y:{type:'category',display:false}
    }
  }
});
/* the browser window may be narrower than the 4164 px layout: fit it across */
document.getElementById('page').style.transform='scale('+(Math.min(innerWidth,4164)/4164)+',1)';
</script></body></html>
